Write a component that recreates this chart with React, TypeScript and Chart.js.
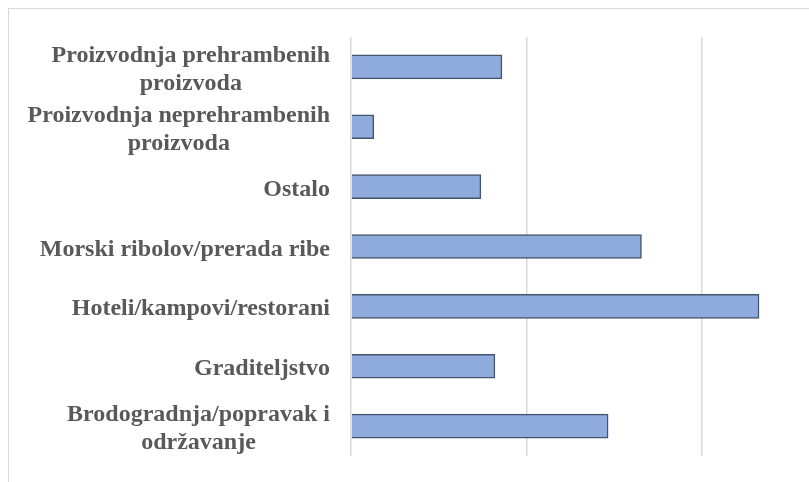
import React, { useEffect, useRef } from "react";
import { Chart, registerables } from "chart.js";

Chart.register(...registerables);

const categories: string[][] = [
  ["Proizvodnja prehrambenih", "proizvoda"],
  ["Proizvodnja neprehrambenih", "proizvoda"],
  ["Ostalo"],
  ["Morski ribolov/prerada ribe"],
  ["Hoteli/kampovi/restorani"],
  ["Graditeljstvo"],
  ["Brodogradnja/popravak i", "održavanje"],
];
const values: number[] = [17.2, 2.6, 14.8, 33.1, 46.5, 16.4, 29.3];
const axisMin = 0;
const axisMax = 60;
const axisStep = 20;

const LABEL_FONT = "bold 24px 'Liberation Serif', 'Times New Roman', serif";
const LINE_H = 27.6;

const labelPlugin = {
  id: "centeredLabels",
  afterDraw(chart: any) {
    const ctx = chart.ctx;
    const yScale = chart.scales.y;
    const right = chart.chartArea.left - 21;
    ctx.save();
    ctx.font = LABEL_FONT;
    ctx.fillStyle = "#595959";
    ctx.textAlign = "center";
    ctx.textBaseline = "alphabetic";
    categories.forEach((lines, i) => {
      const cy = yScale.getPixelForValue(i);
      const w = Math.max(...lines.map((l) => ctx.measureText(l).width));
      const cx = right - w / 2;
      lines.forEach((line, j) => {
        const y = cy + 9 + (j - (lines.length - 1) / 2) * LINE_H;
        ctx.fillText(line, cx, y);
      });
    });
    ctx.restore();
  },
};

export default function App() {
  const ref = useRef<HTMLCanvasElement | null>(null);
  useEffect(() => {
    if (!ref.current) return;
    const chart = new Chart(ref.current, {
      type: "bar",
      data: {
        labels: categories.map((c) => c.join(" ")),
        datasets: [
          {
            data: values,
            backgroundColor: "#8faadc",
            borderColor: "#44546a",
            borderWidth: 1.5,
            barThickness: 24,
          },
        ],
      },
      options: {
        indexAxis: "y",
        animation: false,
        responsive: false,
        maintainAspectRatio: false,
        layout: { padding: { top: 28, bottom: 33, right: 21.5, left: 0 } },
        plugins: {
          legend: { display: false },
          tooltip: { enabled: false },
        },
        scales: {
          x: {
            min: axisMin,
            max: axisMax,
            ticks: { display: false, stepSize: axisStep },
            grid: { color: "#d9d9d9", lineWidth: 1.5, drawTicks: false },
            border: { display: false },
            afterFit: (s: any) => {
              s.height = 0;
            },
          },
          y: {
            ticks: { display: false },
            grid: { display: false, drawTicks: false },
            border: { display: false },
            afterFit: (s: any) => {
              s.width = 342;
            },
          },
        },
      },
      plugins: [labelPlugin],
    });
    return () => chart.destroy();
  }, []);

  return (
    <div
      style={{
        position: "fixed",
        left: 8,
        top: 8,
        width: 801,
        height: 474,
        overflow: "hidden",
      }}
    >
      <div
        style={{
          border: "1px solid #d9d9d9",
          width: 890,
          height: 480,
          background: "#fff",
        }}
      >
        <canvas ref={ref} width={890} height={480} style={{ display: "block" }} />
      </div>
    </div>
  );
}
